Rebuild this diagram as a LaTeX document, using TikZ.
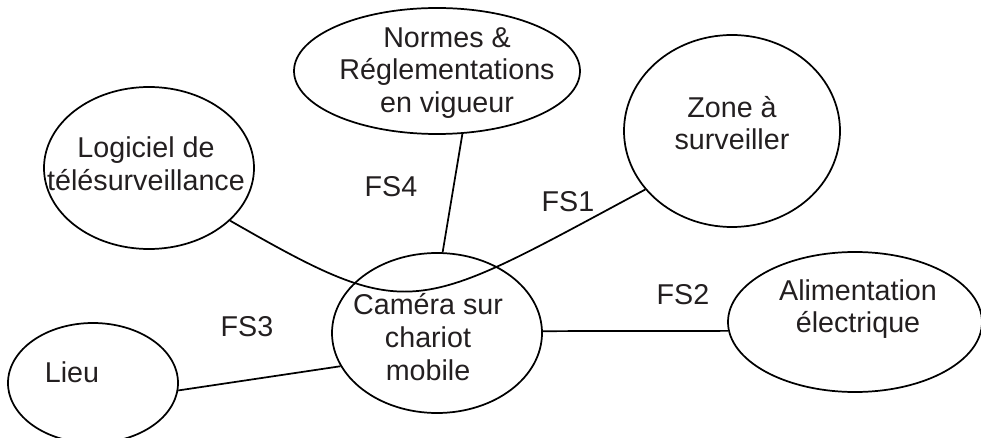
\documentclass[tikz,border=0pt]{standalone}
\usepackage{fontspec}
\setmainfont{Liberation Sans}
\usetikzlibrary{shapes.geometric}
\definecolor{ink}{HTML}{231F20}
\begin{document}
\begin{tikzpicture}[x=0.75pt,y=-0.75pt,
  bubble/.style={ellipse, draw=black, line width=1.3pt, inner sep=0pt},
  txt/.style={align=center, font=\fontsize{21.5}{24.5}\selectfont, text=ink, inner sep=0pt},
  link/.style={draw=black, line width=1.3pt}]
\useasboundingbox (0,0) rectangle (981,438);
\clip (0,0) rectangle (981,438);

% functions around the central product
\node[bubble, minimum width=214.5pt, minimum height=94.5pt] (norm) at (437,71) {};
\node[bubble, minimum width=162pt,   minimum height=144pt]  (zone) at (732,131) {};
\node[bubble, minimum width=157.5pt, minimum height=121.5pt] (logi) at (149,168) {};
\node[bubble, minimum width=157.5pt, minimum height=120pt]  (cam)  at (437,333) {};
\node[bubble, minimum width=190.5pt, minimum height=105pt]  (alim) at (855,322) {};
\node[bubble, minimum width=127.5pt, minimum height=90pt]   (lieu) at (93,383) {};

% texts inside the bubbles
\node[txt] (normtxt) at ([shift={(10,2)}]norm.center) {Normes \&\\Réglementations\\en vigueur};
\node[txt] (zonetxt) at ([shift={(0,-8)}]zone.center) {Zone à\\surveiller};
\node[txt] (logitxt) at ([shift={(-3,-4)}]logi.center) {Logiciel de\\télésurveillance};
\node[txt] (camtxt)  at ([shift={(-9,4)}]cam.center) {Caméra sur\\chariot\\mobile};
\node[txt] (alimtxt) at ([shift={(3,-13)}]alim.center) {Alimentation\\électrique};
\node[txt] (lieutxt) at ([shift={(-21,-11)}]lieu.center) {Lieu};

% links
\draw[link] (logi.-33) .. controls (412,325) and (413,314) .. (zone.-146);
\draw[link] (norm.-68) -- (cam.86);
\draw[link] (cam.1) -- (alim.184);
\draw[link] (lieu.-5) -- (cam.199);

% link labels
\node[txt] (fs4) at (391,187) {FS4};
\node[txt] (fs1) at (568,202) {FS1};
\node[txt] (fs2) at (683,295) {FS2};
\node[txt] (fs3) at (247,327) {FS3};
\end{tikzpicture}
\end{document}
